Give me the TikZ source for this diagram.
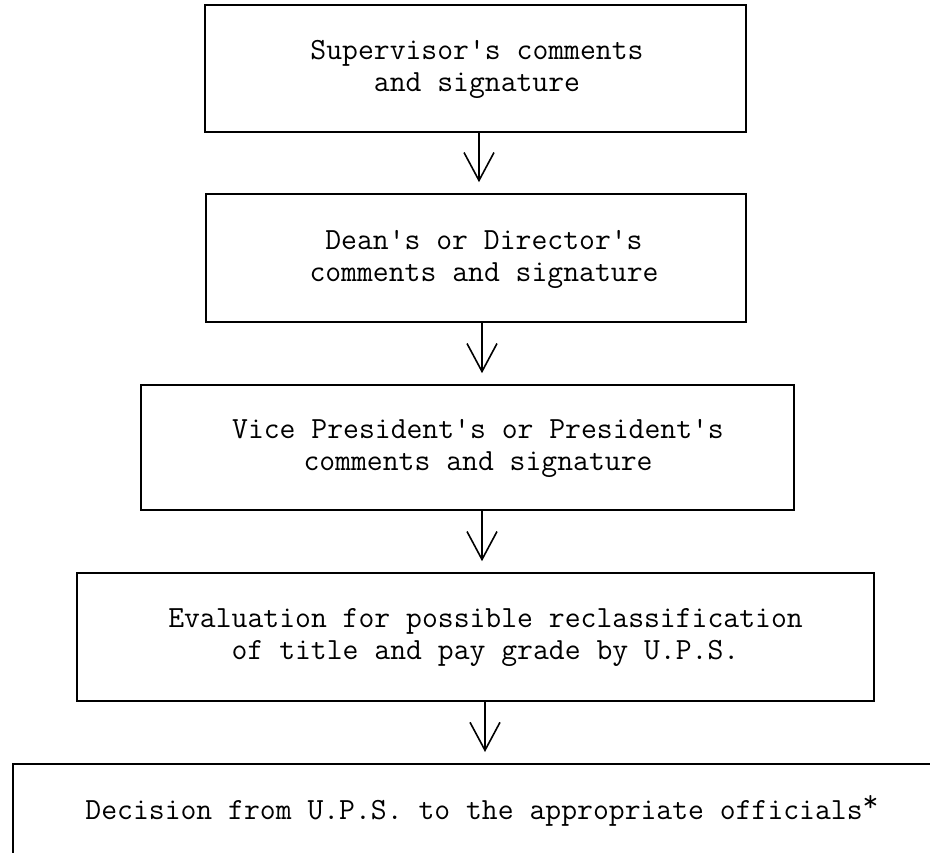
\documentclass[tikz,border=0pt]{standalone}
\usepackage{fontspec}
\setmonofont{Latin Modern Mono}
\usetikzlibrary{arrows.meta}
\tikzset{
  boxnode/.style={draw=black, line width=1.6pt, rectangle, inner sep=0pt},
  txtnode/.style={font=\ttfamily\fontsize{30.8}{32}\selectfont, align=center, inner sep=0pt, text=black},
  flowarrow/.style={draw=black, line width=1.6pt, -{Straight Barb[length=28pt,width=30pt,line width=1.6pt]}, shorten >=11pt}
}
\begin{document}
\begin{tikzpicture}[x=1pt,y=-1pt]
\useasboundingbox (0,0) rectangle (930,853);
\fill[white] (0,0) rectangle (930,853);
\clip (0,0) rectangle (930,853);
% boxes
\node[boxnode, minimum width=541pt, minimum height=127pt] (b1) at (475.5,68.5) {};
\node[boxnode, minimum width=540pt, minimum height=128pt] (b2) at (476,258) {};
\node[boxnode, minimum width=653pt, minimum height=125pt] (b3) at (467.5,447.5) {};
\node[boxnode, minimum width=797pt, minimum height=128pt] (b4) at (475.5,637) {};
\node[boxnode, minimum width=1000pt, minimum height=160pt, anchor=north west] (b5) at (12,763) {};
% texts
\node[txtnode] (t1) at (477,69) {Supervisor's comments\\and signature};
\node[txtnode] (t2) at (484,259) {Dean's or Director's\\comments and signature};
\node[txtnode] (t3) at (478,448) {Vice President's or President's\\comments and signature};
\node[txtnode] (t4) at (485.5,637.5) {Evaluation for possible reclassification\\of title and pay grade by U.P.S.};
\node[txtnode] (t5) at (482,811) {Decision from U.P.S. to the appropriate officials\raisebox{0.25em}{*}};
% arrows
\draw[flowarrow] (b1.south -| 479,0) -- (b2.north -| 479,0);
\draw[flowarrow] (b2.south -| 482,0) -- (b3.north -| 482,0);
\draw[flowarrow] (b3.south -| 482,0) -- (b4.north -| 482,0);
\draw[flowarrow] (b4.south -| 485,0) -- (b5.north -| 485,0);
\end{tikzpicture}
\end{document}
